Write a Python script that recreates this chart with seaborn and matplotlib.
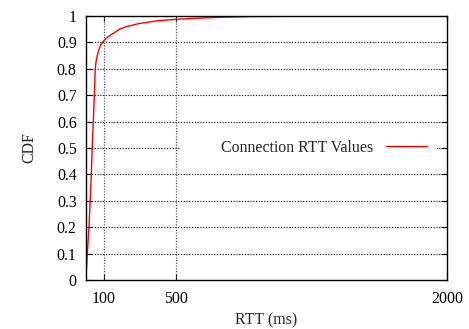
import matplotlib
matplotlib.use("Agg")
import matplotlib.pyplot as plt
from matplotlib.patches import Rectangle
import seaborn as sns
import pandas as pd

# RTT samples (ms) and cumulative fraction of connections
rtt_ms = [0, 5, 9, 18, 25, 31, 36, 42, 48, 53, 58, 64, 72, 82, 94, 100,
          120, 153, 190, 227, 300, 400, 500, 600, 743, 927, 1150, 1450, 2000]
cdf = [0, 0.05, 0.1, 0.2, 0.3, 0.4, 0.5, 0.6, 0.7, 0.8, 0.83, 0.85, 0.87,
       0.89, 0.9, 0.906, 0.92, 0.934, 0.951, 0.96, 0.972, 0.982, 0.9875,
       0.991, 0.995, 0.998, 0.999, 1.0, 1.0]

x_ticks = [100, 500, 2000]
y_ticks = [0, 0.1, 0.2, 0.3, 0.4, 0.5, 0.6, 0.7, 0.8, 0.9, 1]
y_tick_labels = ["0", "0.1", "0.2", "0.3", "0.4", "0.5", "0.6", "0.7",
                 "0.8", "0.9", "1"]
series_name = "Connection RTT Values"

sns.set_theme(style="white")
plt.rcParams["font.family"] = ["Liberation Serif", "DejaVu Serif"]
plt.rcParams["font.size"] = 11.4

df = pd.DataFrame({"RTT": rtt_ms, "CDF": cdf})

fig = plt.figure(figsize=(4.69, 3.29), dpi=100)
ax = fig.add_axes([0.1827, 0.149, 0.77, 0.8024])

sns.lineplot(data=df, x="RTT", y="CDF", ax=ax, color="red", linewidth=1.0,
             label=series_name, zorder=5)

ax.set_xlim(0, 2000)
ax.set_ylim(0, 1)
ax.set_xticks(x_ticks)
ax.set_xticklabels([str(t) for t in x_ticks])
ax.set_yticks(y_ticks)
ax.set_yticklabels(y_tick_labels)

# grid: horizontal black dotted, vertical grey dotted (not at the border)
for yv in y_ticks[1:-1]:
    ax.axhline(yv, color="black", linestyle=(0, (1, 1.5)), linewidth=0.8, zorder=1)
for xv in x_ticks[:-1]:
    ax.axvline(xv, color="#555555", linestyle=(0, (1, 1.2)), linewidth=0.9, zorder=1)

# opaque key area
ax.add_patch(Rectangle((0.26, 0.47), 0.713, 0.06, transform=ax.transAxes,
                       facecolor="white", edgecolor="none", zorder=2))

for s in ax.spines.values():
    s.set_color("black")
    s.set_linewidth(1.0)
    s.set_visible(True)
    s.set_zorder(10)

ax.tick_params(axis="both", direction="in", length=4, width=0.8,
               colors="black", labelsize=11.4,
               left=True, right=True, bottom=True, top=True)
ax.tick_params(axis="y", pad=6.5)
ax.tick_params(axis="x", pad=8)

ax.set_xlabel("RTT (ms)", fontsize=11.4, labelpad=4)
ax.set_ylabel("CDF", fontsize=11.4, labelpad=14)

leg = ax.legend(loc="center right", bbox_to_anchor=(0.962, 0.5),
                frameon=False, markerfirst=False, handlelength=2.6,
                handletextpad=0.8, fontsize=11.4, borderaxespad=0)

fig.savefig("out.png", dpi=100)
